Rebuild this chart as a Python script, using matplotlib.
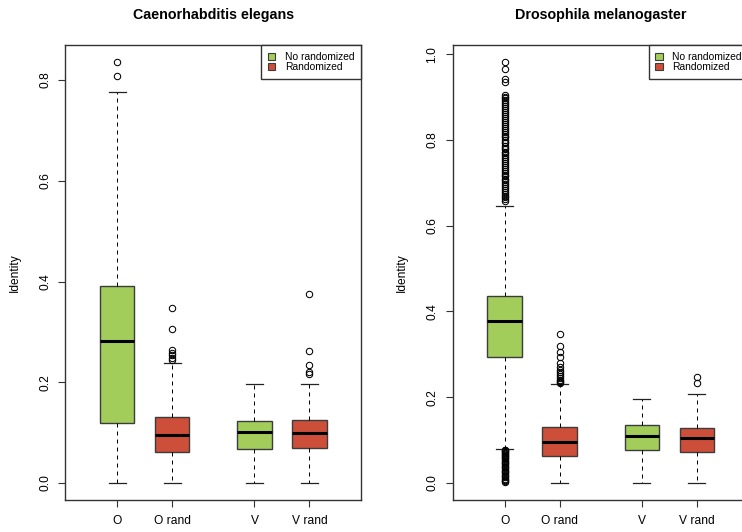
import matplotlib
matplotlib.use("Agg")
import matplotlib.pyplot as plt
from matplotlib.patches import Patch

plt.rcParams['font.family'] = ['Liberation Sans', 'DejaVu Sans']

groups = ["O", "O rand", "V", "V rand"]
positions = [1, 2, 3.5, 4.5]
green = "#A2CD5A"
red = "#CD4F39"
box_colors = [green, red, green, red]
legend_labels = ["No randomized", "Randomized"]

# Caenorhabditis elegans: five-number summaries and outliers
ce_whislo = [0.0, 0.0, 0.0, 0.0]
ce_q1 = [0.119, 0.0607, 0.0667, 0.0694]
ce_med = [0.2817, 0.0943, 0.101, 0.099]
ce_q3 = [0.391, 0.1306, 0.1233, 0.126]
ce_whishi = [0.776, 0.238, 0.1968, 0.1974]
ce_fliers = [
    [0.836, 0.8075],
    [0.348, 0.305, 0.264, 0.259, 0.254, 0.249, 0.244],
    [],
    [0.3747, 0.262, 0.235, 0.2197, 0.2156],
]

# Drosophila melanogaster: five-number summaries and outliers
dm_whislo = [0.0784, 0.0, 0.0, 0.0]
dm_q1 = [0.2929, 0.0632, 0.0767, 0.0727]
dm_med = [0.3767, 0.0957, 0.109, 0.1036]
dm_q3 = [0.4354, 0.1306, 0.136, 0.128]
dm_whishi = [0.646, 0.2295, 0.1955, 0.208]
dm_fliers = [
    [0.982, 0.965, 0.942, 0.936,
     0.905, 0.901, 0.897, 0.893, 0.888, 0.884, 0.879, 0.875, 0.870, 0.866,
     0.861, 0.857, 0.852, 0.847, 0.843, 0.838, 0.833, 0.829, 0.824, 0.819,
     0.815, 0.810, 0.806, 0.801, 0.796, 0.792, 0.787, 0.782, 0.778, 0.773,
     0.769, 0.764, 0.760, 0.755, 0.751, 0.746, 0.742, 0.737, 0.733, 0.728,
     0.724, 0.719, 0.715, 0.710, 0.706, 0.701, 0.697, 0.692, 0.688, 0.683,
     0.679, 0.674, 0.670, 0.666, 0.662, 0.658,
     0.077, 0.076, 0.074, 0.072, 0.070, 0.068, 0.066, 0.063, 0.061, 0.058,
     0.055, 0.052, 0.049, 0.046, 0.043, 0.040, 0.037, 0.034, 0.031, 0.028,
     0.025, 0.022, 0.019, 0.016, 0.013, 0.010, 0.007, 0.004, 0.001],
    [0.3475, 0.319, 0.306, 0.293, 0.280, 0.270, 0.263, 0.258, 0.253, 0.249,
     0.245, 0.241, 0.238, 0.235, 0.232],
    [],
    [0.246, 0.234],
]

W, H = 742, 532
fig = plt.figure(figsize=(W / 100, H / 100), dpi=100)

edge = "#3c3c3c"
FS = 8.64


def px_axes(x0, x1, y0, y1):
    return fig.add_axes([x0 / W, 1 - y1 / H, (x1 - x0) / W, (y1 - y0) / H])


def draw_panel(ax, title, whislo, q1, med, q3, whishi, fliers, ylim, yticks,
               ylab_x, ytl_pad):
    stats = []
    for i in range(len(groups)):
        stats.append(dict(whislo=whislo[i], q1=q1[i], med=med[i], q3=q3[i],
                          whishi=whishi[i], fliers=fliers[i], label=groups[i]))
    art = ax.bxp(stats, positions=positions, widths=0.624, patch_artist=True,
                 showfliers=True,
                 boxprops=dict(edgecolor=edge, linewidth=1.0),
                 medianprops=dict(color="black", linewidth=2.2, solid_capstyle="butt"),
                 whiskerprops=dict(color="black", linewidth=0.72,
                                   linestyle=(0, (4, 4))),
                 capprops=dict(color="#222222", linewidth=0.9),
                 flierprops=dict(marker="o", markerfacecolor="none",
                                 markeredgecolor="black", markersize=4.6,
                                 markeredgewidth=0.75, linestyle="none"),
                 capwidths=0.31)
    for patch, c in zip(art["boxes"], box_colors):
        patch.set_facecolor(c)
    ax.set_xlim(0.055, 5.445)
    ax.set_ylim(*ylim)
    ax.set_yticks(yticks)
    ax.set_yticklabels([f"{t:.1f}" for t in yticks], rotation=90,
                       va="center", fontsize=FS)
    ax.set_xticks(positions)
    ax.set_xticklabels(groups, fontsize=FS)
    ax.tick_params(axis="both", length=5.2, width=0.8, color="#333333")
    ax.tick_params(axis="y", pad=ytl_pad)
    ax.tick_params(axis="x", pad=6.0)
    for s in ax.spines.values():
        s.set_color("#333333")
        s.set_linewidth(1.0)
    ax.set_title(title, fontsize=10.3, fontweight="bold", pad=19)
    bb = ax.get_position()
    fig.text(ylab_x / W, (bb.y0 + bb.y1) / 2, "Identity", rotation=90,
             ha="center", va="center", fontsize=FS)
    handles = [Patch(facecolor=green, edgecolor=edge, linewidth=0.8),
               Patch(facecolor=red, edgecolor=edge, linewidth=0.8)]
    leg = ax.legend(handles, legend_labels, loc="upper right", fontsize=7.4,
                    frameon=True, fancybox=False, framealpha=1,
                    edgecolor="#333333", borderaxespad=0, borderpad=0.65,
                    handlelength=0.7, handleheight=0.7, handletextpad=0.95,
                    labelspacing=0.05)
    leg.get_frame().set_linewidth(1.0)


ax1 = px_axes(65.3, 361.3, 45.1, 499.8)
draw_panel(ax1, "Caenorhabditis elegans", ce_whislo, ce_q1, ce_med, ce_q3,
           ce_whishi, ce_fliers, (-0.0334, 0.8694),
           [0.0, 0.2, 0.4, 0.6, 0.8], 15, 5.0)

ax2 = px_axes(452.7, 748.7, 45.1, 499.8)
draw_panel(ax2, "Drosophila melanogaster", dm_whislo, dm_q1, dm_med, dm_q3,
           dm_whishi, dm_fliers, (-0.0396, 1.0214),
           [0.0, 0.2, 0.4, 0.6, 0.8, 1.0], 401.7, 5.0)

fig.savefig("out.png", dpi=100)
